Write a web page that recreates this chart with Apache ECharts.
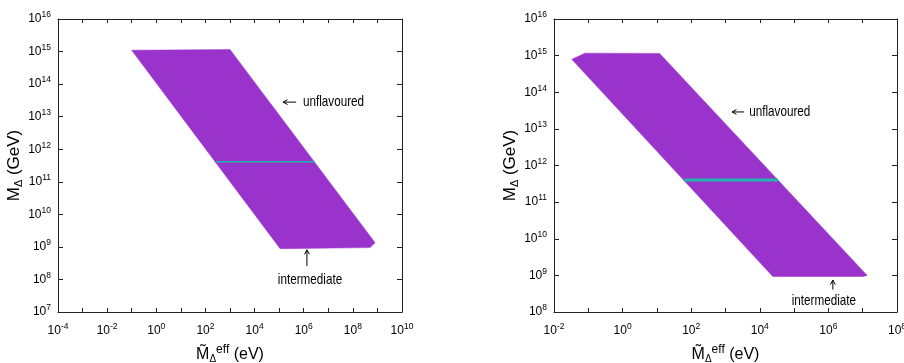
<!DOCTYPE html>
<html><head><meta charset="utf-8">
<script src="https://cdn.jsdelivr.net/npm/echarts@6/dist/echarts.min.js"></script>
<style>html,body{margin:0;padding:0;background:#fff}#c{width:904px;height:363px}</style>
</head><body><div id="c"></div>
<script>
// ---- data (log-log values) ----
const leftRegion  = [[0.1,1.1e15],[1e3,1.15e15],[8e8,1.35e9],[5e8,0.95e9],[1.1e5,0.88e9]];
const rightRegion = [[0.033,7.9e14],[0.08,1.17e15],[12,1.15e15],[1.35e7,1.0e9],[1e7,0.93e9],[2.4e4,0.93e9]];
const leftLine  = [[270,4.1e11],[2.9e6,4.1e11]];
const rightLine = [[62,4e11],[3.4e4,4e11]];
// arrows: [xTail, yTail, xHead, yHead]
const leftArrows  = [[4.9e5,2.8e13,1.45e5,2.8e13],[1.35e6,2.6e8,1.35e6,8.1e8]];
const rightArrows = [[3.5e3,2.9e13,1.55e3,2.9e13],[1.35e6,4.1e8,1.35e6,7.4e8]];
// labels: [x, y, text, align]
const leftLabels  = [[9.3e5,2.8e13,'unflavoured','left'],[1.8e6,1.0e8,'intermediate','center']];
const rightLabels = [[4.9e3,3.0e13,'unflavoured','left'],[7.4e5,2.0e8,'intermediate','center']];
// axis ranges and labelled exponents
const leftXRange = [1e-4, 1e10], leftYRange = [1e7, 1e16];
const rightXRange = [1e-2, 1e8], rightYRange = [1e8, 1e16];
const leftXTicks  = [-4,-2,0,2,4,6,8,10];
const leftYTicks  = [7,8,9,10,11,12,13,14,15,16];
const rightXTicks = [-2,0,2,4,6,8];
const rightYTicks = [8,9,10,11,12,13,14,15,16];

const FONT = "'Liberation Sans', Arial, Helvetica, sans-serif";
const PURPLE = '#9933cc', TEAL = '#22b5ad', FRAME = '#222';

const tickRich = {
  b: {fontSize: 12, fontFamily: FONT, color: '#000'},
  s: {fontSize: 8.5, fontFamily: FONT, color: '#000', padding: [0,0,8,0]}
};
function fmt(list){
  return v => { const e = Math.round(Math.log10(v)); return list.includes(e) ? '{b|10}{s|' + e + '}' : ''; };
}
const xName = '{m|M\u0303}{d|Δ}{e|eff}{m| (eV)}';
const xNameStyle = {rich: {
  m: {fontSize: 16, fontFamily: FONT, color: '#000'},
  d: {fontSize: 10, fontFamily: FONT, color: '#000', padding: [10,0,0,0]},
  e: {fontSize: 12, fontFamily: FONT, color: '#000', padding: [0,0,9,0]}
}};
const yName = '{m|M}{d|Δ}{m| (GeV)}';
const yNameStyle = {rich: {
  m: {fontSize: 17, fontFamily: FONT, color: '#000'},
  d: {fontSize: 11, fontFamily: FONT, color: '#000', padding: [9,0,0,0]}
}};

const axisLine = {show: true, onZero: false, lineStyle: {color: FRAME, width: 1}};
function xAxes(gi, range, ticks){
  const base = {type: 'log', logBase: 10, gridIndex: gi, min: range[0], max: range[1], interval: 1,
    axisLine, splitLine: {show: false}, axisTick: {inside: true, length: 4, lineStyle: {color: FRAME}}};
  return [
    Object.assign({}, base, {position: 'bottom',
      axisLabel: {formatter: fmt(ticks), rich: tickRich, margin: 10, showMinLabel: true, showMaxLabel: true, hideOverlap: false},
      name: xName, nameLocation: 'middle', nameGap: 32, nameTextStyle: xNameStyle}),
    Object.assign({}, base, {position: 'top', axisLabel: {show: false}})
  ];
}
function yAxes(gi, range, ticks){
  const base = {type: 'log', logBase: 10, gridIndex: gi, min: range[0], max: range[1], interval: 1,
    axisLine, splitLine: {show: false}, axisTick: {inside: true, length: 5, lineStyle: {color: FRAME}}};
  return [
    Object.assign({}, base, {position: 'left',
      axisLabel: {formatter: fmt(ticks), rich: tickRich, margin: 7, showMinLabel: true, showMaxLabel: true, hideOverlap: false},
      name: yName, nameLocation: 'middle', nameRotate: 90, nameGap: 32, nameTextStyle: yNameStyle}),
    Object.assign({}, base, {position: 'right', axisLabel: {show: false}})
  ];
}

function regionSeries(xi, yi, pts){
  return {type: 'custom', xAxisIndex: xi, yAxisIndex: yi, silent: true, clip: false, z: 2,
    data: [pts[0]],
    renderItem: (p, api) => ({type: 'polygon', shape: {points: pts.map(q => api.coord(q))},
      style: {fill: PURPLE, stroke: PURPLE, lineWidth: 0.5}})};
}
function lineSeries(xi, yi, pts, w){
  return {type: 'line', xAxisIndex: xi, yAxisIndex: yi, data: pts, symbol: 'none', silent: true, z: 3,
    lineStyle: {color: TEAL, width: w}};
}
function arrowSeries(xi, yi, arr){
  return {type: 'custom', xAxisIndex: xi, yAxisIndex: yi, silent: true, clip: false, z: 4, data: arr,
    renderItem: (p, api) => {
      const t = api.coord([api.value(0), api.value(1)]);
      const h = api.coord([api.value(2), api.value(3)]);
      const ang = Math.atan2(t[1]-h[1], t[0]-h[0]);
      const L = 5, a = 0.5;
      const p1 = [h[0] + L*Math.cos(ang+a), h[1] + L*Math.sin(ang+a)];
      const p2 = [h[0] + L*Math.cos(ang-a), h[1] + L*Math.sin(ang-a)];
      const st = {stroke: '#000', lineWidth: 1, fill: null};
      return {type: 'group', children: [
        {type: 'line', shape: {x1: t[0], y1: t[1], x2: h[0], y2: h[1]}, style: st},
        {type: 'polyline', shape: {points: [p1, h, p2]}, style: st}
      ]};
    }};
}
function labelSeries(xi, yi, arr){
  return {type: 'custom', xAxisIndex: xi, yAxisIndex: yi, silent: true, clip: false, z: 4,
    data: arr.map(d => [d[0], d[1]]),
    renderItem: (p, api) => {
      const c = api.coord([api.value(0), api.value(1)]);
      const d = arr[p.dataIndex];
      return {type: 'text', x: c[0], y: c[1], scaleX: 0.78,
        style: {text: d[2], fill: '#000', font: '15px ' + FONT, textAlign: d[3], textVerticalAlign: 'middle'}};
    }};
}

const chart = echarts.init(document.getElementById('c'), null, {renderer: 'canvas'});
chart.setOption({
  animation: false,
  backgroundColor: '#fff',
  grid: [
    {left: 58, top: 19, width: 344, height: 293, containLabel: false, outerBoundsMode: 'none'},
    {left: 554, top: 19, width: 343, height: 293, containLabel: false, outerBoundsMode: 'none'}
  ],
  xAxis: [...xAxes(0, leftXRange, leftXTicks), ...xAxes(1, rightXRange, rightXTicks)],
  yAxis: [...yAxes(0, leftYRange, leftYTicks), ...yAxes(1, rightYRange, rightYTicks)],
  series: [
    regionSeries(0, 0, leftRegion),
    lineSeries(0, 0, leftLine, 1.5),
    arrowSeries(0, 0, leftArrows),
    labelSeries(0, 0, leftLabels),
    regionSeries(2, 2, rightRegion),
    lineSeries(2, 2, rightLine, 3),
    arrowSeries(2, 2, rightArrows),
    labelSeries(2, 2, rightLabels)
  ]
});
</script></body></html>
